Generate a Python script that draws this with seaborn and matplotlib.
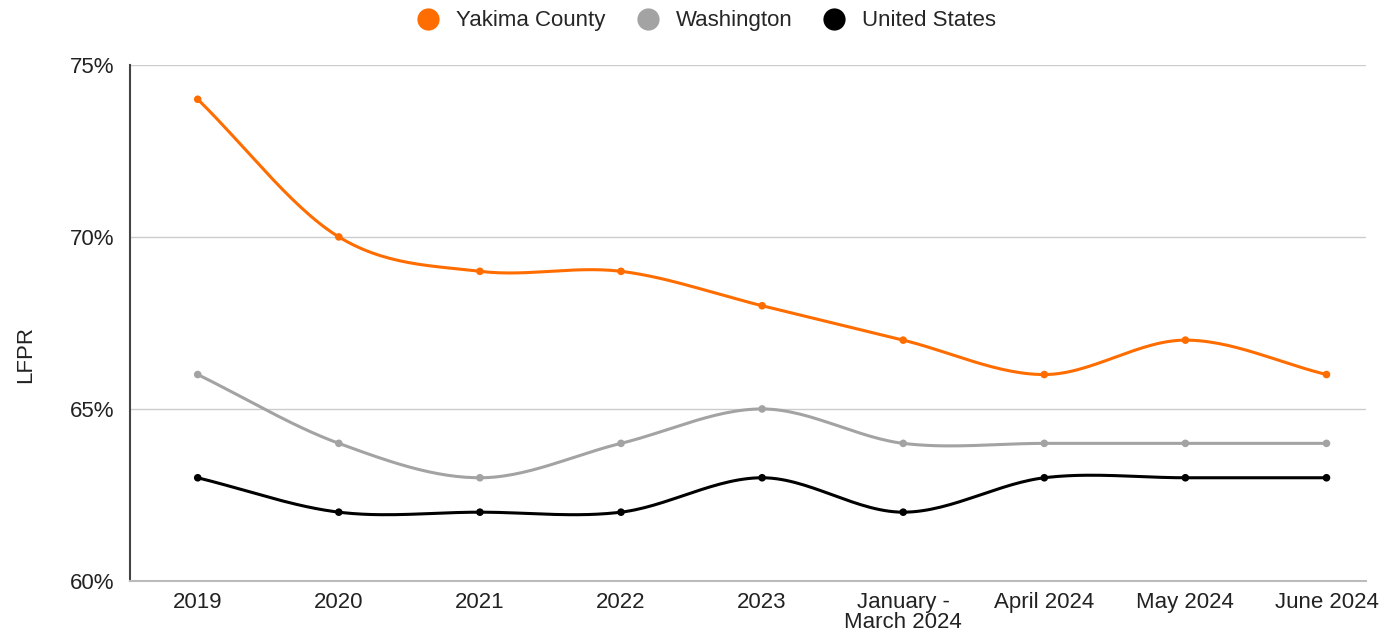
import numpy as np
import pandas as pd
import matplotlib
matplotlib.use("Agg")
import matplotlib.pyplot as plt
import seaborn as sns
from matplotlib.lines import Line2D

# data
periods = ['2019', '2020', '2021', '2022', '2023', 'January -\nMarch 2024',
           'April 2024', 'May 2024', 'June 2024']
yakima = [74, 70, 69, 69, 68, 67, 66, 67, 66]
washington = [66, 64, 63, 64, 65, 64, 64, 64, 64]
united_states = [63, 62, 62, 62, 63, 62, 63, 63, 63]

series_names = ['Yakima County', 'Washington', 'United States']
colors = {'Yakima County': '#ff6d00', 'Washington': '#a3a3a3', 'United States': '#000000'}

sns.set_theme(style='white')
plt.rcParams['font.family'] = ['Liberation Sans', 'DejaVu Sans']

def smooth(y, steps=30):
    # catmull-rom curve through the points, only used to draw the line
    y = np.asarray(y, dtype=float)
    p = np.concatenate([[2 * y[0] - y[1]], y, [2 * y[-1] - y[-2]]])
    xs, ys = [], []
    for i in range(len(y) - 1):
        p0, p1, p2, p3 = p[i], p[i + 1], p[i + 2], p[i + 3]
        t = np.linspace(0, 1, steps, endpoint=False)
        m1 = (p2 - p0) / 2
        m2 = (p3 - p1) / 2
        h00 = 2 * t**3 - 3 * t**2 + 1
        h10 = t**3 - 2 * t**2 + t
        h01 = -2 * t**3 + 3 * t**2
        h11 = t**3 - t**2
        xs.append(i + t)
        ys.append(h00 * p1 + h10 * m1 + h01 * p2 + h11 * m2)
    xs.append([len(y) - 1])
    ys.append([y[-1]])
    return np.concatenate(xs), np.concatenate(ys)

points = pd.DataFrame({
    'x': list(range(len(periods))) * 3,
    'value': yakima + washington + united_states,
    'series': np.repeat(series_names, len(periods)),
})
curves = []
for name, vals in zip(series_names, [yakima, washington, united_states]):
    cx, cy = smooth(vals)
    curves.append(pd.DataFrame({'x': cx, 'value': cy, 'series': name}))
curves = pd.concat(curves, ignore_index=True)

fig = plt.figure(figsize=(13.83, 6.36), dpi=100)
ax = fig.add_axes([0.094, 0.0865, 0.8937, 0.8115])

ax.yaxis.grid(True, color='#cccccc', linewidth=1)
sns.lineplot(data=curves, x='x', y='value', hue='series', palette=colors,
             linewidth=2.2, legend=False, ax=ax, sort=False, estimator=None)
sns.scatterplot(data=points, x='x', y='value', hue='series', palette=colors,
                s=30, edgecolor='none', legend=False, ax=ax, zorder=5)

ax.set_ylim(60, 75)
ax.set_yticks([60, 65, 70, 75])
ax.set_yticklabels(['60%', '65%', '70%', '75%'], fontsize=16, color='#222222')
ax.set_xlim(-0.48, 8.28)
ax.set_xticks(range(len(periods)))
ax.set_xticklabels(periods, fontsize=16, color='#222222', linespacing=0.95)
ax.tick_params(axis='y', length=0, pad=11)
ax.tick_params(axis='x', length=0, pad=8)
ax.set_xlabel('')
ax.set_ylabel('LFPR', fontsize=16, color='#222222')
ax.yaxis.set_label_coords(-0.076, 0.438)
ax.set_axisbelow(True)

for side in ['top', 'right']:
    ax.spines[side].set_visible(False)
ax.spines['left'].set_color('#444444')
ax.spines['left'].set_linewidth(1.5)
ax.spines['bottom'].set_color('#bbbbbb')
ax.spines['bottom'].set_linewidth(1.5)

handles = [Line2D([], [], marker='o', linestyle='', markersize=16,
                  markerfacecolor=colors[n], markeredgecolor='none') for n in series_names]
fig.legend(handles, series_names, loc='upper center', bbox_to_anchor=(0.507, 1.015),
           ncol=3, frameon=False, fontsize=16, handletextpad=0.25, columnspacing=0.9)

fig.savefig('out.png', dpi=100)
